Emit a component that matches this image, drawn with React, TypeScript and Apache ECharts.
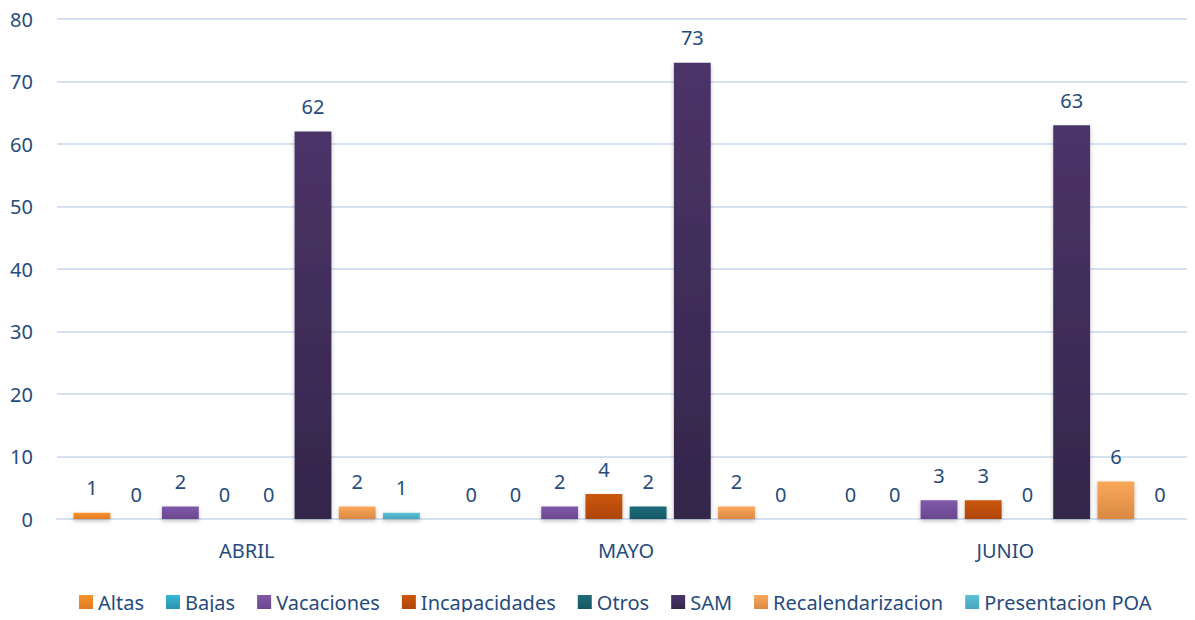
import React, { useEffect, useRef } from "react";
import * as echarts from "echarts";

const categories = ["ABRIL", "MAYO", "JUNIO"];
const seriesNames = ["Altas", "Bajas", "Vacaciones", "Incapacidades", "Otros", "SAM", "Recalendarizacion", "Presentacion POA"];
const altas = [1, 0, 0];
const bajas = [0, 0, 0];
const vacaciones = [2, 2, 3];
const incapacidades = [0, 4, 3];
const otros = [0, 2, 0];
const sam = [62, 73, 63];
const recalendarizacion = [2, 2, 6];
const presentacionPOA = [1, 0, 0];
const yTicks = [0, 10, 20, 30, 40, 50, 60, 70, 80];

const seriesValues = [altas, bajas, vacaciones, incapacidades, otros, sam, recalendarizacion, presentacionPOA];
const colorStops: [string, string][] = [
  ["#F8922C", "#E07A24"],
  ["#36B6D6", "#2894AE"],
  ["#8058AA", "#6A488F"],
  ["#CC570A", "#AE4606"],
  ["#1E6C7A", "#155865"],
  ["#4C3468", "#33264A"],
  ["#FBA85A", "#D98944"],
  ["#5CBFD8", "#46A6BE"],
];

const TEXT = "#264B7D";
const FONT = "'Noto Sans', sans-serif";

export default function App() {
  const ref = useRef<HTMLDivElement>(null);
  useEffect(() => {
    if (!ref.current) return;
    const chart = echarts.init(ref.current, null, { renderer: "svg" });
    const grad = (c: [string, string]) =>
      new echarts.graphic.LinearGradient(0, 0, 0, 1, [
        { offset: 0, color: c[0] },
        { offset: 1, color: c[1] },
      ]);
    chart.setOption({
      animation: false,
      textStyle: { fontFamily: FONT },
      grid: { left: 57, right: 0, top: 19, bottom: 101, containLabel: false },
      legend: {
        bottom: 3,
        left: 74,
        itemWidth: 14,
        itemHeight: 14,
        itemGap: 22,
        icon: "rect",
        textStyle: { color: TEXT, fontSize: 20, fontFamily: FONT },
        data: seriesNames,
      },
      xAxis: {
        type: "category",
        data: categories,
        axisLine: { show: true, lineStyle: { color: "#D6E1F2", width: 2 } },
        axisTick: { show: false },
        axisLabel: { color: TEXT, fontSize: 20, margin: 21, fontFamily: FONT },
      },
      yAxis: {
        type: "value",
        min: yTicks[0],
        max: yTicks[yTicks.length - 1],
        interval: 10,
        axisLine: { show: false },
        axisTick: { show: false },
        axisLabel: { color: TEXT, fontSize: 20, margin: 24, fontFamily: FONT },
        splitLine: { lineStyle: { color: "#D6E1F2", width: 2 } },
      },
      series: seriesNames.map((name, i) => ({
        name,
        type: "bar",
        data: seriesValues[i],
        barGap: "20%",
        barCategoryGap: "8.7%",
        itemStyle: {
          color: grad(colorStops[i]),
          shadowBlur: 4,
          shadowColor: "rgba(0,0,0,0.25)",
          shadowOffsetY: 2,
        },
        label: {
          show: true,
          position: "top",
          distance: 15,
          color: TEXT,
          fontSize: 20,
          fontFamily: FONT,
        },
      })),
    });
    return () => chart.dispose();
  }, []);
  return <div ref={ref} style={{ width: 1195, height: 620, margin: -8 }} />;
}
